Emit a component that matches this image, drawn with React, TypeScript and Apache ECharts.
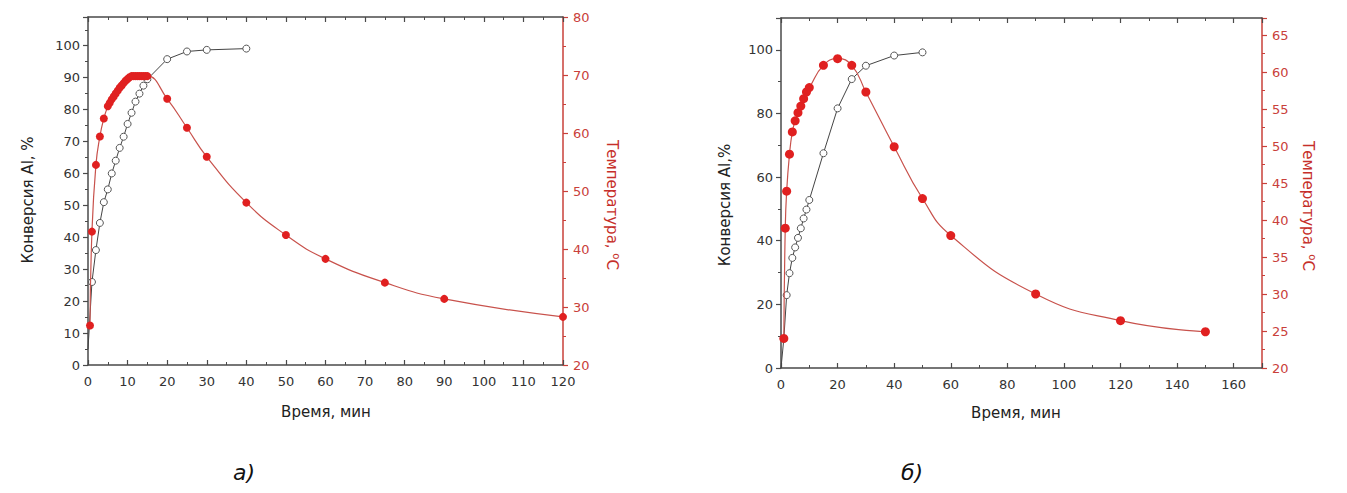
import React, { useEffect, useRef } from "react";
import * as echarts from "echarts";

// ---- Panel a) ----
const timeConvA = [0, 1, 2, 3, 4, 5, 6, 7, 8, 9, 10, 11, 12, 13, 14, 15, 20, 25, 30, 40];
const convA = [5, 26, 36, 44.5, 51, 55, 60, 64, 68, 71.5, 75.5, 79, 82.5, 85, 87.5, 89.5, 95.8, 98.2, 98.7, 99.1];
const timeTempA = [0.5, 1, 2, 3, 4, 5, 5.5, 6, 6.5, 7, 7.5, 8, 8.5, 9, 9.5, 10, 10.5, 11, 11.5, 12, 12.5, 13, 13.5, 14, 14.5, 15, 20, 25, 30, 40, 50, 60, 75, 90, 120];
const tempA = [26.8, 43, 54.5, 59.4, 62.5, 64.6, 65.2, 65.8, 66.3, 66.8, 67.3, 67.8, 68.2, 68.6, 69.0, 69.3, 69.6, 69.8, 69.8, 69.8, 69.8, 69.8, 69.8, 69.8, 69.8, 69.8, 65.9, 60.9, 55.9, 48, 42.4, 38.3, 34.2, 31.4, 28.3];

// ---- Panel б) ----
const timeConvB = [0, 1, 2, 3, 4, 5, 6, 7, 8, 9, 10, 15, 20, 25, 30, 40, 50];
const convB = [0, 9.2, 22.9, 29.8, 34.6, 37.9, 40.9, 43.9, 47, 49.8, 52.8, 67.5, 81.6, 90.8, 95, 98.2, 99.2];
const timeTempB = [1, 1.5, 2, 3, 4, 5, 6, 7, 8, 9, 10, 15, 20, 25, 30, 40, 50, 60, 90, 120, 150];
const tempB = [24, 38.9, 43.9, 48.9, 51.9, 53.4, 54.5, 55.4, 56.4, 57.3, 57.9, 60.9, 61.8, 60.9, 57.3, 49.9, 42.9, 37.9, 30, 26.4, 24.9];

// texts
const xTitle = "Время, мин";
const yTitleA = "Конверсия Al, %";
const yTitleB = "Конверсия Al,%";
const tTitle = "Температура, {sup|o}C";
const panelA = "а)";
const panelB = "б)";

const FONT = "'DejaVu Sans', 'Liberation Sans', Arial, sans-serif";
const AX = "#4a4a4a";
const RED_AX = "#c9403a";
const RED_PT = "#e02020";
const RED_LN = "#c8524c";

const pairs = (xs: number[], ys: number[], noSymFirst = false) =>
  xs.map((x, i) =>
    i === 0 && noSymFirst ? { value: [x, ys[i]], symbol: "none" } : { value: [x, ys[i]] }
  );

const fmtEvery = (step: number) => (v: number) =>
  Math.abs(v / step - Math.round(v / step)) < 1e-6 ? String(Math.round(v)) : "";

function xAxisDef(grid: number, max: number, interval: number, pos: "bottom" | "top") {
  return {
    type: "value",
    gridIndex: grid,
    position: pos,
    min: 0,
    max,
    interval,
    splitLine: { show: false },
    axisLine: { show: true, onZero: false, lineStyle: { color: AX, width: 1.5 } },
    axisTick: { show: true, inside: true, length: 5, lineStyle: { color: AX, width: 1.2 } },
    minorTick: { show: true, splitNumber: 2, length: 3, lineStyle: { color: AX, width: 1 } },
    axisLabel: {
      show: pos === "bottom",
      margin: 10,
      color: "#333",
      fontSize: 13,
      fontFamily: FONT,
      formatter: fmtEvery(interval),
    },
  };
}

function yAxisDef(
  grid: number,
  min: number,
  max: number,
  interval: number,
  pos: "left" | "right",
  color: string,
  labelColor: string,
  margin: number
) {
  return {
    type: "value",
    gridIndex: grid,
    position: pos,
    min,
    max,
    interval,
    splitLine: { show: false },
    axisLine: { show: true, onZero: false, lineStyle: { color, width: 1.5 } },
    axisTick: { show: true, inside: false, length: 5, lineStyle: { color, width: 1.2 } },
    minorTick: { show: true, splitNumber: 2, length: 3, lineStyle: { color, width: 1 } },
    axisLabel: {
      margin,
      color: labelColor,
      fontSize: 13,
      fontFamily: FONT,
      formatter: fmtEvery(interval),
    },
  };
}

const convSeries = (x: number, y: number, data: any[]) => ({
  type: "line",
  xAxisIndex: x,
  yAxisIndex: y,
  data,
  symbol: "circle",
  symbolSize: 7,
  showSymbol: true,
  smooth: false,
  lineStyle: { color: "#444", width: 1 },
  itemStyle: { color: "#fff", borderColor: "#555", borderWidth: 1 },
  z: 2,
});

const tempSeries = (x: number, y: number, data: any[], size: number) => ({
  type: "line",
  xAxisIndex: x,
  yAxisIndex: y,
  data,
  symbol: "circle",
  symbolSize: size,
  smooth: 0.5,
  lineStyle: { color: RED_LN, width: 1.2 },
  itemStyle: { color: RED_PT, borderWidth: 0 },
  z: 3,
});

const titleText = (x: number, y: number, text: string, rotation: number, fill: string, rich = false) => ({
  type: "text",
  x,
  y,
  rotation,
  style: {
    text,
    fill,
    fontSize: 15,
    fontFamily: FONT,
    align: "center",
    verticalAlign: "middle",
    ...(rich
      ? {
          rich: {
            sup: { fontSize: 10, fill, fontFamily: FONT, verticalAlign: "top", lineHeight: 18 },
          },
          lineHeight: 18,
        }
      : {}),
  },
});

export default function App() {
  const ref = useRef<HTMLDivElement>(null);
  useEffect(() => {
    if (!ref.current) return;
    const chart = echarts.init(ref.current, undefined, { renderer: "svg" });
    chart.setOption({
      animation: false,
      backgroundColor: "#fff",
      grid: [
        { left: 88, top: 17, width: 475, height: 348 },
        { left: 781, top: 18, width: 481, height: 350 },
      ],
      xAxis: [
        xAxisDef(0, 120, 10, "bottom"),
        xAxisDef(0, 120, 10, "top"),
        xAxisDef(1, 170, 20, "bottom"),
        xAxisDef(1, 170, 20, "top"),
      ],
      yAxis: [
        yAxisDef(0, 0, 109, 10, "left", AX, "#333", 8),
        yAxisDef(0, 20, 80, 10, "right", RED_AX, RED_AX, 10),
        yAxisDef(1, 0, 110, 20, "left", AX, "#333", 8),
        yAxisDef(1, 20, 67.3, 5, "right", RED_AX, RED_AX, 10),
      ],
      series: [
        convSeries(0, 0, pairs(timeConvA, convA, true)),
        tempSeries(0, 1, pairs(timeTempA, tempA), 8),
        convSeries(2, 2, pairs(timeConvB, convB, true)),
        tempSeries(2, 3, pairs(timeTempB, tempB), 9),
      ],
      graphic: [
        titleText(28, 200, yTitleA, Math.PI / 2, "#222"),
        titleText(612, 205, tTitle, -Math.PI / 2, "#c62f2a", true),
        titleText(326, 412, xTitle, 0, "#222"),
        titleText(725, 205, yTitleB, Math.PI / 2, "#222"),
        titleText(1308, 206, tTitle, -Math.PI / 2, "#c62f2a", true),
        titleText(1016, 413, xTitle, 0, "#222"),
        {
          type: "text",
          x: 244,
          y: 472,
          style: { text: panelA, fill: "#111", fontSize: 22, fontStyle: "italic", fontFamily: FONT, align: "center", verticalAlign: "middle" },
        },
        {
          type: "text",
          x: 912,
          y: 472,
          style: { text: panelB, fill: "#111", fontSize: 22, fontStyle: "italic", fontFamily: FONT, align: "center", verticalAlign: "middle" },
        },
      ],
    });
    return () => chart.dispose();
  }, []);
  return (
    <div
      ref={ref}
      style={{ position: "absolute", left: 0, top: 0, width: 1347, height: 493, background: "#fff" }}
    />
  );
}
